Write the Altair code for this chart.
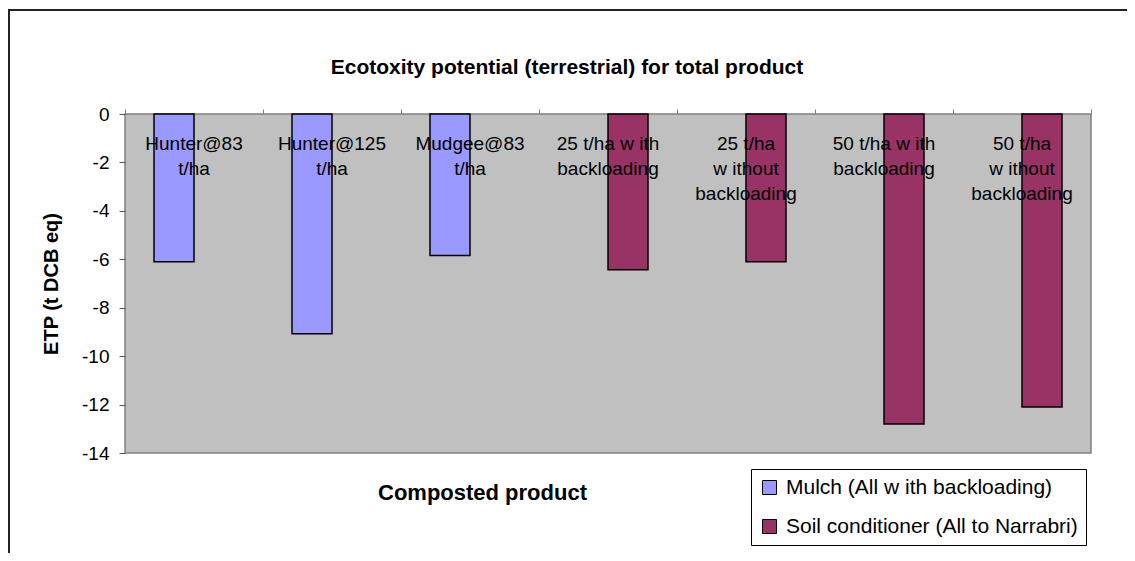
import altair as alt
import pandas as pd

# ---- data ----
categories = [
    "Hunter@83\nt/ha",
    "Hunter@125\nt/ha",
    "Mudgee@83\nt/ha",
    "25 t/ha w ith\nbackloading",
    "25 t/ha\nw ithout\nbackloading",
    "50 t/ha w ith\nbackloading",
    "50 t/ha\nw ithout\nbackloading",
]
series_names = ["Mulch (All w ith backloading)", "Soil conditioner (All to Narrabri)"]
series_index = [0, 0, 0, 1, 1, 1, 1]
values = [-6.1, -9.08, -5.84, -6.43, -6.1, -12.8, -12.1]
y_ticks = [-14, -12, -10, -8, -6, -4, -2, 0]
colors = ["#9999FF", "#993366"]

title_text = "Ecotoxity potential (terrestrial) for total product"
x_title = "Composted product"
y_title = "ETP (t DCB eq)"

df = pd.DataFrame({
    "category": categories,
    "series": [series_names[i] for i in series_index],
    "value": values,
})

FONT = "Liberation Sans"
W, H = 966, 339

bars = alt.Chart(df).mark_bar(stroke="black", strokeWidth=1.5).encode(
    x=alt.X(
        "category:N",
        sort=categories,
        scale=alt.Scale(paddingInner=0, paddingOuter=0),
        axis=alt.Axis(
            orient="bottom", offset=-H, ticks=False, tickSize=0, domain=False, grid=False,
            labelAngle=0, labelExpr="split(datum.value, '\\n')",
            labelFont=FONT, labelFontSize=19, labelColor="black",
            labelLineHeight=25, labelPadding=20, labelBaseline="top",
            labelOverlap=False, labelBound=False, labelLimit=0, labelFlush=False,
            title=x_title, titleX=357, titleY=378, titleFont=FONT, titleFontSize=22,
            titleFontWeight="bold", titleColor="black", titleBaseline="middle",
            titleAlign="center", zindex=1,
        ),
    ),
    xOffset=alt.XOffset(
        "series:N",
        scale=alt.Scale(domain=series_names, paddingInner=0, paddingOuter=0.725),
    ),
    y=alt.Y(
        "value:Q",
        scale=alt.Scale(domain=[-14, 0], nice=False, zero=True),
        axis=alt.Axis(
            values=y_ticks, labelExpr="'' + datum.value", grid=False, domain=False,
            tickSize=6, tickColor="#555555", labelFont=FONT, labelFontSize=19,
            labelColor="black", labelPadding=10,
            title=y_title, titleFont=FONT, titleFontSize=20, titleFontWeight="bold",
            titleColor="black", titleX=-74, titleY=H / 2, titleAngle=270,
            titleAlign="center", titleBaseline="middle",
        ),
    ),
    color=alt.Color(
        "series:N",
        scale=alt.Scale(domain=series_names, range=colors),
        legend=alt.Legend(
            orient="none", legendX=626, legendY=355, title=None, direction="vertical",
            symbolType="square", symbolSize=196, symbolStrokeColor="black",
            symbolStrokeWidth=1, symbolOpacity=1,
            labelFont=FONT, labelFontSize=21, labelColor="black", labelOffset=6,
            labelLimit=0, strokeColor="black", fillColor="white", padding=8,
            rowPadding=17,
        ),
    ),
)

tick_df = pd.DataFrame({"category": categories})
top_ticks = alt.Chart(tick_df).mark_point(opacity=0).encode(
    x=alt.X(
        "category:N",
        sort=categories,
        axis=alt.Axis(
            orient="top", labels=False, ticks=True, tickBand="extent", tickSize=5,
            tickColor="#808080", domain=False, grid=False, title=None,
        ),
    ),
)

frame = alt.Chart(alt.Data(values=[{"f": 1}])).mark_rect(
    fill="white", fillOpacity=0, stroke="#222222", strokeWidth=2
).encode(
    x=alt.value(-116), x2=alt.value(1300), y=alt.value(-104), y2=alt.value(800)
)

chart = alt.layer(frame, bars, top_ticks).resolve_axis(x="independent").properties(
    width=W,
    height=H,
    title=alt.TitleParams(
        title_text, font=FONT, fontSize=21, fontWeight="bold", color="black",
        anchor="middle", frame="group", dx=-41, offset=-69,
    ),
    autosize=alt.AutoSizeParams(type="none"),
    padding={"left": 117, "top": 106, "right": 36, "bottom": 100},
    background="white",
).configure_view(
    fill="#C0C0C0", stroke="#808080", strokeWidth=1.5
)

chart.save("out.html", embed_options={"renderer": "svg", "actions": False})
